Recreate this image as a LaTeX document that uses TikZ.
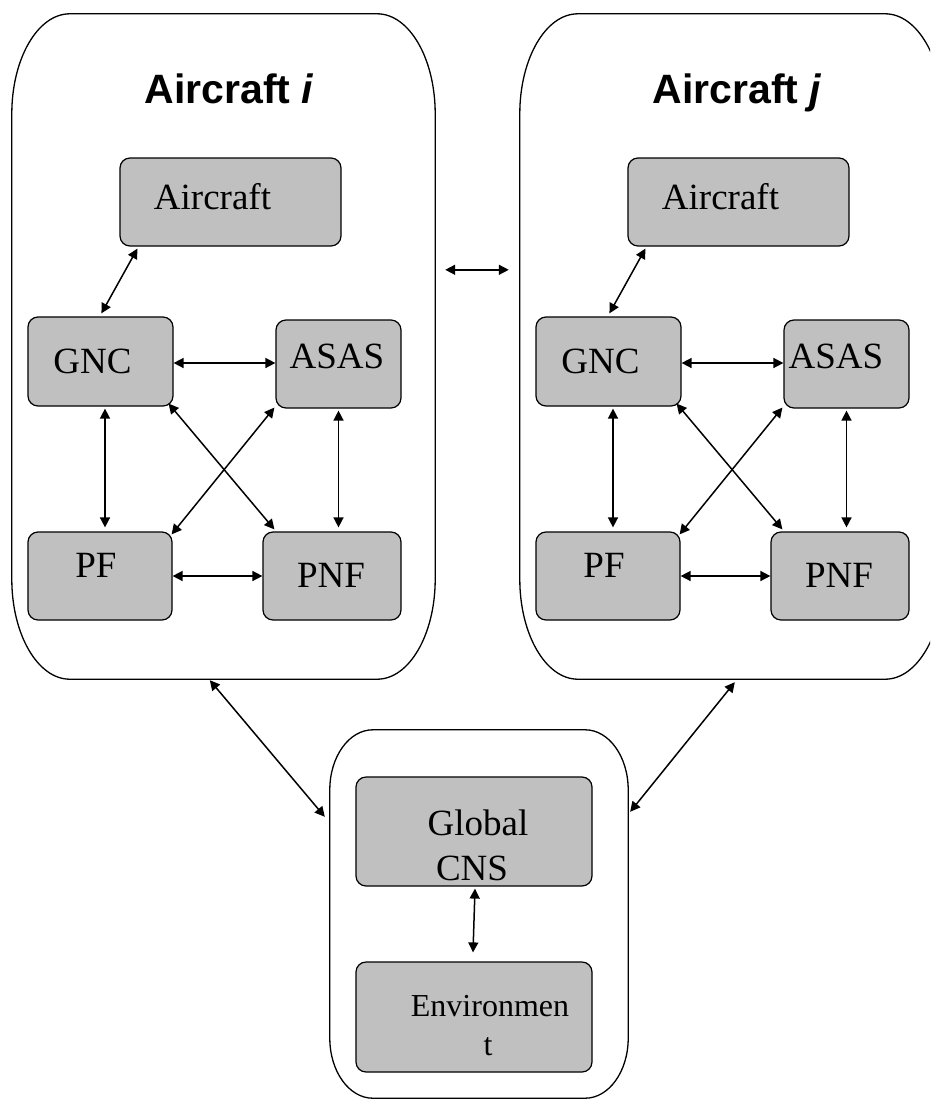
\documentclass[tikz,border=0pt]{standalone}
\usepackage{fontspec}
\setmainfont{Liberation Serif}
\newfontfamily\headfont{Liberation Sans}
\usetikzlibrary{calc,arrows.meta}

\definecolor{boxgray}{HTML}{C0C0C0}

\tikzset{
  frame/.style={draw=black, line width=1.3pt},
  holder/.style={draw=none, inner sep=0pt},
  unitbox/.style={draw=black, line width=1.2pt, fill=boxgray, rounded corners=10pt, inner sep=0pt},
  boxtext/.style={inner sep=0pt, anchor=base, font=\fontsize{37}{44}\selectfont},
  envtext/.style={inner sep=0pt, anchor=base, font=\fontsize{32}{38}\selectfont},
  heading/.style={inner sep=0pt, anchor=base, font=\headfont\bfseries\fontsize{41}{49}\selectfont},
  link/.style={line width=1.5pt, {Triangle[length=10pt,width=10pt]}-{Triangle[length=10pt,width=10pt]}},
}

% outline with elliptical corners around a holder node: #1 node, #2 x radius, #3 y radius
\newcommand\softoutline[3]{%
  \draw[frame] ($(#1.north west)+(0,#3)$)
    .. controls ($(#1.north west)+(0,0.4477*#3)$) and ($(#1.north west)+(0.4477*#2,0)$) .. ($(#1.north west)+(#2,0)$)
    -- ($(#1.north east)+(-#2,0)$)
    .. controls ($(#1.north east)+(-0.4477*#2,0)$) and ($(#1.north east)+(0,0.4477*#3)$) .. ($(#1.north east)+(0,#3)$)
    -- ($(#1.south east)+(0,-#3)$)
    .. controls ($(#1.south east)+(0,-0.4477*#3)$) and ($(#1.south east)+(-0.4477*#2,0)$) .. ($(#1.south east)+(-#2,0)$)
    -- ($(#1.south west)+(#2,0)$)
    .. controls ($(#1.south west)+(0.4477*#2,0)$) and ($(#1.south west)+(0,-0.4477*#3)$) .. ($(#1.south west)+(0,-#3)$)
    -- cycle;}

% one aircraft block: #1 name prefix, #2 horizontal offset, #3 index letter, #4 x of the ASAS label
\newcommand\aircraftunit[4]{%
  \node[holder, minimum width=423pt, minimum height=665pt] (#1) at ({#2+223.5},346.5) {};
  \softoutline{#1}{58}{100}
  \node[heading] (#1title) at ({#2+229},103) {Aircraft {\itshape #3}};
  \node[unitbox, minimum width=221pt, minimum height=88pt] (#1acft) at ({#2+230.5},202) {};
  \node[unitbox, minimum width=145pt, minimum height=89pt] (#1gnc) at ({#2+100.5},361.5) {};
  \node[unitbox, minimum width=125pt, minimum height=88pt] (#1asas) at ({#2+338.5},364) {};
  \node[unitbox, minimum width=144pt, minimum height=88pt] (#1pf) at ({#2+100},576) {};
  \node[unitbox, minimum width=138pt, minimum height=88pt] (#1pnf) at ({#2+332},576) {};
  \node[boxtext] (#1acfttxt) at ({#2+212.5},209) {Aircraft};
  \node[boxtext] (#1gnctxt) at ({#2+92.5},373) {GNC};
  \node[boxtext] (#1asastxt) at ({#2+#4},368) {ASAS};
  \node[boxtext] (#1pftxt) at ({#2+96},577) {PF};
  \node[boxtext] (#1pnftxt) at ({#2+331},587) {PNF};
  \draw[link] ($(#1acft.south west)+(18,2)$) -- ($(#1gnc.north west)+(74,-3)$);
  \draw[link] ($(#1gnc.east)+(0,1.5)$) -- ($(#1gnc.east -| #1asas.west)+(0,1.5)$);
  \draw[link] ($(#1gnc.south)+(4.5,2)$) -- ($(#1pf.north)+(5,-4)$);
  \draw[link] ($(#1asas.south)+(0,2)$) -- ($(#1asas.south |- #1pnf.north)+(0,-4)$);
  \draw[link] ($(#1gnc.south east)+(-5,-3)$) -- ($(#1pnf.north west)+(12,-2)$);
  \draw[link] ($(#1asas.south west)+(-1,-1)$) -- ($(#1pf.north east)+(-1,3)$);
  \draw[link] (#1pf.east) -- (#1pf.east -| #1pnf.west);
}

\begin{document}
\begin{tikzpicture}[x=1pt, y=-1pt]
  \useasboundingbox (0,0) rectangle (930,1100);
  \clip (0,0) rectangle (930,1100);

  \aircraftunit{i}{0}{i}{337}
  \aircraftunit{j}{508}{j}{328}

  % shared ground segment
  \node[holder, minimum width=298pt, minimum height=368pt] (ground) at (479,914) {};
  \softoutline{ground}{43}{60}
  \node[unitbox, minimum width=236pt, minimum height=109pt] (gcns) at (474,831.5) {};
  \node[unitbox, minimum width=236pt, minimum height=110pt] (env) at (474,1017) {};
  \node[boxtext] (gcnstxta) at (478,835) {Global};
  \node[boxtext] (gcnstxtb) at (472,880) {CNS};
  \node[envtext] (envtxta) at (490,1016) {Environmen};
  \node[envtext] (envtxtb) at (488,1055) {t};
  \draw[link] ($(gcns.south)+(1,2)$) -- ($(env.north)+(-1,-9)$);

  % links between the blocks
  \draw[link] ($(i.north east)+(10,256)$) -- ($(j.north west)+(-11,256)$);
  \draw[link] ($(i.south west)+(198,1)$) -- ($(ground.north west)+(-5,87)$);
  \draw[link] ($(j.south west)+(215,3)$) -- ($(ground.north east)+(2,82)$);
\end{tikzpicture}
\end{document}
